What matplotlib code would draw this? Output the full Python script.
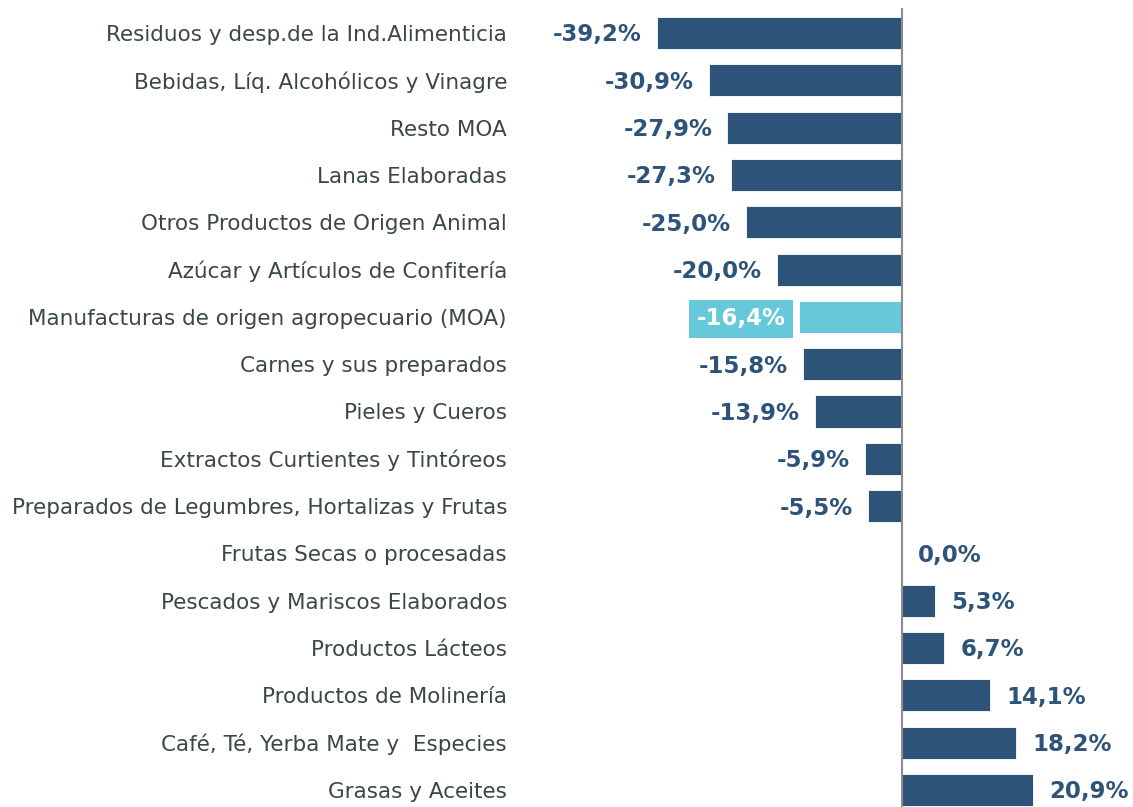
import matplotlib.pyplot as plt
from matplotlib.transforms import blended_transform_factory

# data
categories = [
    "Residuos y desp.de la Ind.Alimenticia",
    "Bebidas, Líq. Alcohólicos y Vinagre",
    "Resto MOA",
    "Lanas Elaboradas",
    "Otros Productos de Origen Animal",
    "Azúcar y Artículos de Confitería",
    "Manufacturas de origen agropecuario (MOA)",
    "Carnes y sus preparados",
    "Pieles y Cueros",
    "Extractos Curtientes y Tintóreos",
    "Preparados de Legumbres, Hortalizas y Frutas",
    "Frutas Secas o procesadas",
    "Pescados y Mariscos Elaborados",
    "Productos Lácteos",
    "Productos de Molinería",
    "Café, Té, Yerba Mate y  Especies",
    "Grasas y Aceites",
]
values = [-39.2, -30.9, -27.9, -27.3, -25.0, -20.0, -16.4, -15.8, -13.9,
          -5.9, -5.5, 0.0, 5.3, 6.7, 14.1, 18.2, 20.9]
highlight = "Manufacturas de origen agropecuario (MOA)"

dark = "#2E5378"
light = "#67C8DA"
text_col = "#3A4843"

W, H = 1133, 807
fig = plt.figure(figsize=(W / 100, H / 100), dpi=100)
ax = fig.add_axes([520 / W, 0, 610 / W, 1 - 8 / H])

px = 6.26  # pixels per percent point
ax.set_xlim(-(902 - 520) / px, (1130 - 902) / px)
ax.set_ylim(16.36, -0.53)

ypos = list(range(len(categories)))
colors = [light if c == highlight else dark for c in categories]
ax.barh(ypos, values, height=0.68, color=colors, edgecolor="white", linewidth=0.6)

ax.axvline(0, color="#8C8C8C", linewidth=1.5)
for s in ax.spines.values():
    s.set_visible(False)
ax.set_xticks([])
ax.set_yticks([])

off = 15 / px
dy = 0.04
for y, v, c in zip(ypos, values, categories):
    lab = f"{v:.1f}%".replace(".", ",")
    if c == highlight:
        ax.text(v - 14 / px, y + dy, lab, ha="right", va="center", fontsize=16.5,
                fontweight="bold", color="white",
                bbox=dict(boxstyle="square,pad=0.33", fc=light, ec="none"))
    elif v < 0:
        ax.text(v - off, y + dy, lab, ha="right", va="center", fontsize=16.5,
                fontweight="bold", color=dark)
    else:
        ax.text(v + off + 0.2, y + dy, lab, ha="left", va="center", fontsize=16.5,
                fontweight="bold", color=dark)

# category labels
tr = blended_transform_factory(fig.transFigure, ax.transData)
for y, c in zip(ypos, categories):
    ax.text(507 / W, y + 0.04, c, transform=tr, ha="right", va="center",
            fontsize=15.5, color=text_col)

fig.savefig("out.png", dpi=100)
